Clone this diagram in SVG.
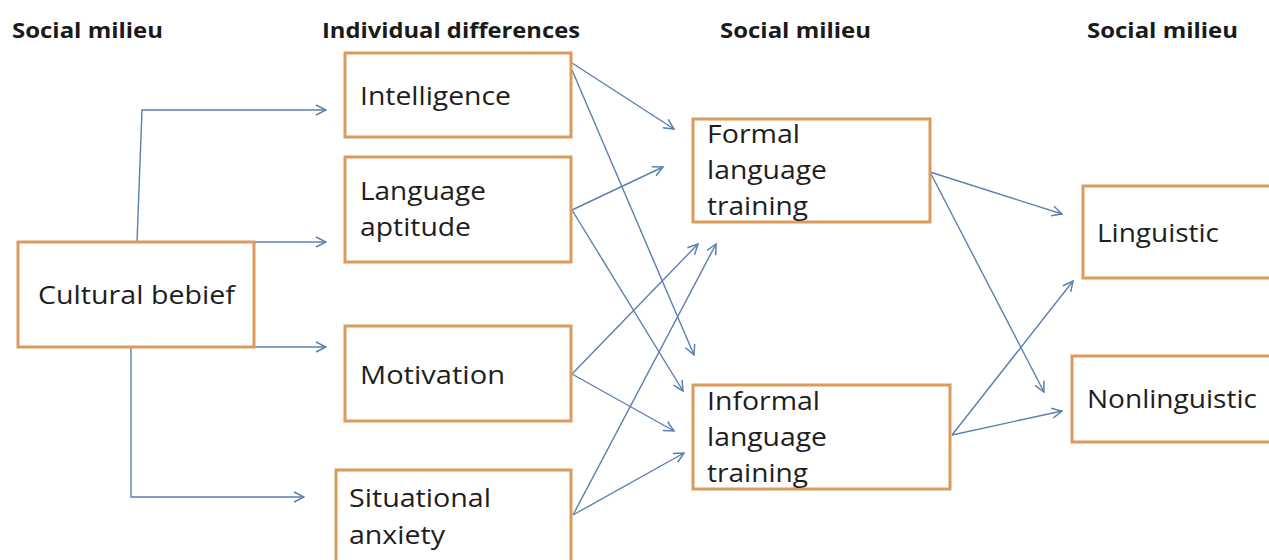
<svg xmlns="http://www.w3.org/2000/svg" width="1269" height="560" viewBox="0 0 1269 560">
  <style>
    .box { fill: #ffffff; stroke: #dc9a5c; stroke-width: 3; }
    .label { font-family: "Open Sans", "Liberation Sans", sans-serif; font-size: 26px; fill: #1e1e1e; }
    .title { font-family: "Open Sans", "Liberation Sans", sans-serif; font-size: 21px; font-weight: bold; fill: #1a1a1a; }
    .link { fill: none; stroke: #5a80b0; stroke-width: 1.4; marker-end: url(#arrow); }
  </style>
  <defs>
    <marker id="arrow" viewBox="0 0 12 12" refX="11" refY="6" markerWidth="12" markerHeight="12" markerUnits="userSpaceOnUse" orient="auto">
      <path d="M1,1 L11,6 L1,11" fill="none" stroke="#5a80b0" stroke-width="1.5"/>
    </marker>
  </defs>
  <rect width="1269" height="560" fill="#ffffff"/>

  <!-- column headings -->
  <g id="headings">
    <text class="title" x="12" y="38" textLength="151" lengthAdjust="spacingAndGlyphs">Social milieu</text>
    <text class="title" x="322" y="38" textLength="258" lengthAdjust="spacingAndGlyphs">Individual differences</text>
    <text class="title" x="720" y="38" textLength="151" lengthAdjust="spacingAndGlyphs">Social milieu</text>
    <text class="title" x="1087" y="38" textLength="151" lengthAdjust="spacingAndGlyphs">Social milieu</text>
  </g>

  <!-- connectors -->
  <g id="connectors">
    <polyline class="link" points="137,242 142,110 326,110"/>
    <line class="link" x1="254" y1="242" x2="326" y2="242"/>
    <line class="link" x1="254" y1="347" x2="326" y2="347"/>
    <polyline class="link" points="131,347 131,497 304,497"/>

    <line class="link" x1="572" y1="63" x2="674" y2="129"/>
    <line class="link" x1="572" y1="70" x2="694" y2="355"/>
    <line class="link" x1="572" y1="210" x2="663" y2="167"/>
    <line class="link" x1="572" y1="210" x2="683" y2="391"/>
    <line class="link" x1="572" y1="374" x2="698" y2="244"/>
    <line class="link" x1="572" y1="374" x2="674" y2="431"/>
    <line class="link" x1="573" y1="515" x2="716" y2="244"/>
    <line class="link" x1="573" y1="515" x2="684" y2="453"/>

    <line class="link" x1="930" y1="172" x2="1062" y2="214"/>
    <line class="link" x1="930" y1="172" x2="1044" y2="392"/>
    <line class="link" x1="952" y1="435" x2="1073" y2="281"/>
    <line class="link" x1="952" y1="435" x2="1062" y2="411"/>
  </g>

  <g id="cultural-belief">
    <rect class="box" x="18" y="242" width="236" height="105"/>
    <text class="label" x="38" y="304" textLength="197" lengthAdjust="spacingAndGlyphs">Cultural bebief</text>
  </g>

  <g id="intelligence">
    <rect class="box" x="345" y="53" width="226" height="84"/>
    <text class="label" x="360" y="105" textLength="151" lengthAdjust="spacingAndGlyphs">Intelligence</text>
  </g>

  <g id="language-aptitude">
    <rect class="box" x="345" y="157" width="226" height="105"/>
    <text class="label" x="360" y="200" textLength="126" lengthAdjust="spacingAndGlyphs">Language</text>
    <text class="label" x="360" y="236" textLength="111" lengthAdjust="spacingAndGlyphs">aptitude</text>
  </g>

  <g id="motivation">
    <rect class="box" x="345" y="326" width="226" height="95"/>
    <text class="label" x="360" y="384" textLength="145" lengthAdjust="spacingAndGlyphs">Motivation</text>
  </g>

  <g id="situational-anxiety">
    <rect class="box" x="336" y="470" width="235" height="100"/>
    <text class="label" x="349" y="507" textLength="142" lengthAdjust="spacingAndGlyphs">Situational</text>
    <text class="label" x="349" y="544" textLength="96" lengthAdjust="spacingAndGlyphs">anxiety</text>
  </g>

  <g id="formal-training">
    <rect class="box" x="693" y="119" width="237" height="103"/>
    <text class="label" x="707" y="143" textLength="93" lengthAdjust="spacingAndGlyphs">Formal</text>
    <text class="label" x="707" y="179" textLength="120" lengthAdjust="spacingAndGlyphs">language</text>
    <text class="label" x="707" y="215" textLength="101" lengthAdjust="spacingAndGlyphs">training</text>
  </g>

  <g id="informal-training">
    <rect class="box" x="693" y="385" width="257" height="104"/>
    <text class="label" x="707" y="410" textLength="113" lengthAdjust="spacingAndGlyphs">Informal</text>
    <text class="label" x="707" y="446" textLength="120" lengthAdjust="spacingAndGlyphs">language</text>
    <text class="label" x="707" y="482" textLength="101" lengthAdjust="spacingAndGlyphs">training</text>
  </g>

  <g id="linguistic">
    <rect class="box" x="1083" y="186" width="200" height="92"/>
    <text class="label" x="1097" y="242" textLength="122" lengthAdjust="spacingAndGlyphs">Linguistic</text>
  </g>

  <g id="nonlinguistic">
    <rect class="box" x="1072" y="356" width="211" height="86"/>
    <text class="label" x="1087" y="408" textLength="170" lengthAdjust="spacingAndGlyphs">Nonlinguistic</text>
  </g>
</svg>
